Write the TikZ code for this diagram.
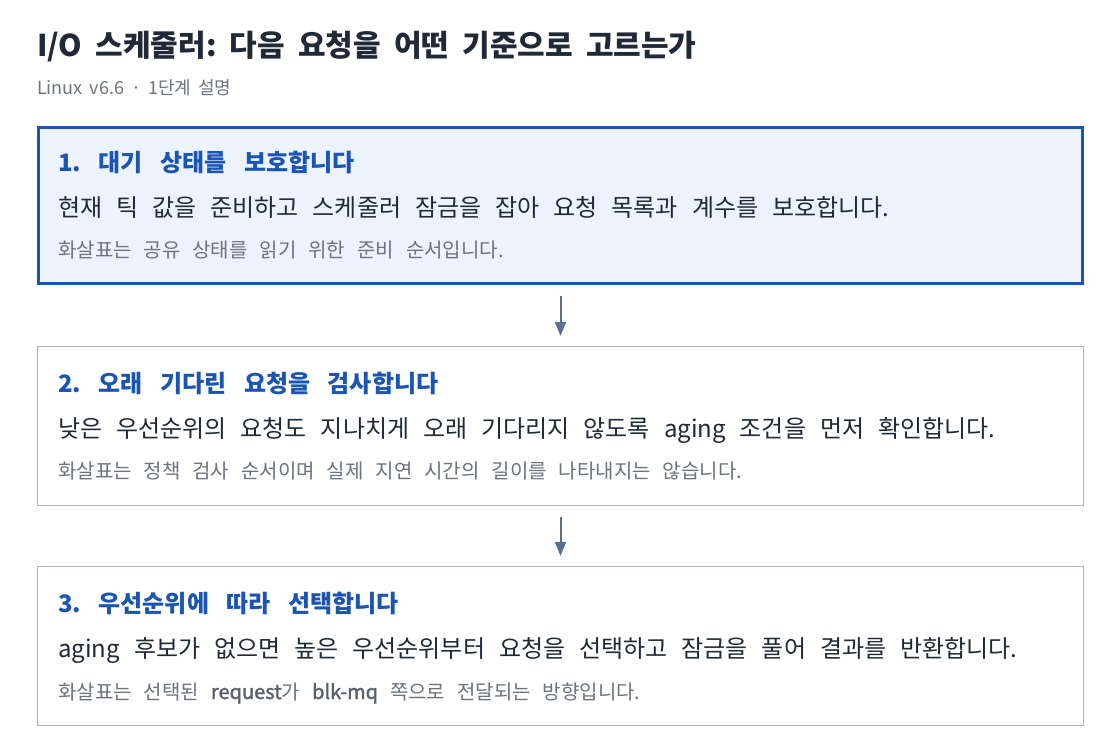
\documentclass[tikz,border=0pt]{standalone}
\usepackage{fontspec}
\setmainfont{Noto Sans CJK KR}
\usetikzlibrary{arrows.meta}
\newcommand\wordgap[1]{\frenchspacing\spaceskip=#1\relax}
\newcommand\codeword[1]{{\addfontfeature{FakeBold=1.5}\color{inkgray!75!inkdark}#1}}
\definecolor{inkdark}{HTML}{1F2937}
\definecolor{inkgray}{HTML}{6B7280}
\definecolor{headblue}{HTML}{1A55B5}
\definecolor{cardline}{HTML}{AAB4C3}
\definecolor{cardfill}{HTML}{EDF3FD}
\definecolor{flowline}{HTML}{56708F}
\tikzset{
	card/.style={draw=cardline, line width=1.2pt, fill=white, inner sep=0pt},
	cardon/.style={draw=headblue, line width=3pt, fill=cardfill, inner sep=0pt},
	txt/.style={anchor=base west, inner sep=0pt},
	title/.style={txt, text=inkdark, font=\fontsize{30}{36}\selectfont\bfseries\wordgap{13.2pt}},
	subtitle/.style={txt, text=inkgray, font=\fontsize{18}{21}\selectfont\wordgap{7pt}},
	head/.style={txt, text=headblue, font=\fontsize{24}{28}\selectfont\bfseries\wordgap{17.5pt}},
	body/.style={txt, text=inkdark, font=\fontsize{24}{28}\selectfont\wordgap{14pt}},
	note/.style={txt, text=inkgray, font=\fontsize{20}{24}\selectfont\wordgap{12pt}},
	flow/.style={draw=flowline, line width=2pt, -{Triangle[length=14pt,width=11pt]}, shorten <=11pt, shorten >=10pt}
}
\begin{document}
\begin{tikzpicture}[x=1pt,y=-1pt]
	\useasboundingbox (0,0) rectangle (1120,754);

	\node[title] (ttl) at (37,57) {I/O 스케줄러: 다음 요청을 어떤 기준으로 고르는가};
	\node[subtitle] (sub) at (37,95) {Linux v6.6 · 1단계 설명};

	% step 1
	\node[cardon, minimum width=1044pt, minimum height=156pt] (s1) at (560.5,205.5) {};
	\node[head] (h1) at (58,172) {1. 대기 상태를 보호합니다};
	\node[body] (b1) at (58,217) {현재 틱 값을 준비하고 스케줄러 잠금을 잡아 요청 목록과 계수를 보호합니다.};
	\node[note] (n1) at (58,258) {화살표는 공유 상태를 읽기 위한 준비 순서입니다.};

	% step 2
	\node[card, minimum width=1046pt, minimum height=159pt] (s2) at (560.5,426) {};
	\node[head] (h2) at (58,392) {2. 오래 기다린 요청을 검사합니다};
	\node[body] (b2) at (58,437) {낮은 우선순위의 요청도 지나치게 오래 기다리지 않도록 aging 조건을 먼저 확인합니다.};
	\node[note] (n2) at (58,478) {화살표는 정책 검사 순서이며 실제 지연 시간의 길이를 나타내지는 않습니다.};

	% step 3
	\node[card, minimum width=1046pt, minimum height=159pt] (s3) at (560.5,646) {};
	\node[head] (h3) at (58,612) {3. 우선순위에 따라 선택합니다};
	\node[body] (b3) at (58,657) {aging 후보가 없으면 높은 우선순위부터 요청을 선택하고 잠금을 풀어 결과를 반환합니다.};
	\node[note] (n3) at (58,699) {화살표는 선택된 \codeword{request}가 \codeword{blk-mq} 쪽으로 전달되는 방향입니다.};

	\draw[flow] (s1.south) -- (s2.north);
	\draw[flow] (s2.south) -- (s3.north);
\end{tikzpicture}
\end{document}
